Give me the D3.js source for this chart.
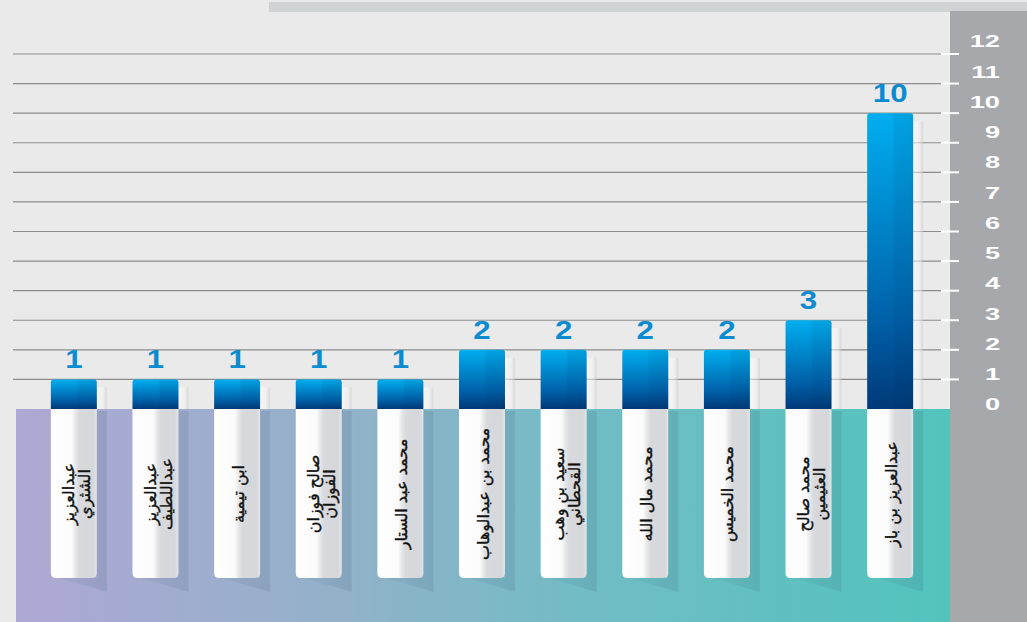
<!DOCTYPE html>
<html><head><meta charset="utf-8">
<script src="https://cdn.jsdelivr.net/npm/d3@7"></script>
<style>html,body{margin:0;padding:0;background:#eaeaea;}svg{display:block;}</style>
</head><body>
<svg id="c" width="1027" height="622"></svg>
<script>
const names = [
  ["عبدالعزيز","الشثري"],
  ["عبدالعزيز","عبداللطيف"],
  ["ابن تيمية"],
  ["صالح فوزان","الفوزان"],
  ["محمد عبد الستار"],
  ["محمد بن عبدالوهاب"],
  ["سعيد بن وهب","القحطاني"],
  ["محمد مال الله"],
  ["محمد الخميس"],
  ["محمد صالح","العثيمين"],
  ["عبدالعزيز بن باز"]
];
const values = [1,1,1,1,1,2,2,2,2,3,10];
const yTicks = [0,1,2,3,4,5,6,7,8,9,10,11,12];

const svg = d3.select("#c");
const W = 1027, H = 622;
const base = 409, cardBottom = 578;

const x = d3.scaleBand().domain(d3.range(values.length)).range([28, 936]).paddingInner(0.437).paddingOuter(0.28);
const y = d3.scaleLinear().domain([0, 12]).range([base, 54]);
const yLab = d3.scaleLinear().domain([0, 12]).range([405, 42]);

const defs = svg.append("defs");
function lin(id, x1, y1, x2, y2, stops) {
  const g = defs.append("linearGradient").attr("id", id)
    .attr("x1", x1).attr("y1", y1).attr("x2", x2).attr("y2", y2);
  stops.forEach(s => g.append("stop").attr("offset", s[0]).attr("stop-color", s[1]).attr("stop-opacity", s[2] == null ? 1 : s[2]));
}
lin("band", 0, 0, 1, 0, [[0, "#afa8d4"], [0.35, "#92b1c9"], [0.6, "#72bcc5"], [1, "#52c4bc"]]);
lin("bar", 0, 0, 0, 1, [[0, "#00aeef"], [0.2, "#0098dc"], [0.7, "#0060a8"], [1, "#003978"]]);
lin("barShade", 0, 0, 1, 0, [[0, "#000", 0], [0.55, "#000", 0], [0.6, "#002040", 0.07], [1, "#002040", 0.09]]);
lin("card", 0, 0, 1, 0, [[0, "#ffffff"], [0.45, "#fbfbfb"], [0.55, "#e3e4e6"], [0.62, "#d8d9dc"], [0.92, "#d6d7da"], [1, "#e4e5e7"]]);
lin("barSh", 0, 0, 1, 0, [[0, "#ffffff", 0.55], [0.6, "#f6f6f6", 0.5], [1, "#c8c8c8", 0.5]]);
lin("cardSh", 0, 0, 1, 0, [[0, "#30506a", 0.05], [1, "#30506a", 0.14]]);

// top strip and right panel
svg.append("rect").attr("x", 269).attr("y", 2).attr("width", W - 269).attr("height", 10).attr("fill", "#d1d2d4");
svg.append("rect").attr("x", 950).attr("y", 11).attr("width", W - 950).attr("height", H - 11).attr("fill", "#a7a8ab");

// bottom band
svg.append("rect").attr("x", 16).attr("y", base).attr("width", 950 - 16).attr("height", H - base).attr("fill", "url(#band)");

// gridlines
const gl = svg.append("g");
gl.selectAll("line.g").data(yTicks.filter(d => d > 0)).join("line")
  .attr("x1", 13).attr("x2", 941).attr("y1", d => y(d)).attr("y2", d => y(d))
  .attr("stroke", "#8c8c8c").attr("stroke-width", 1.2);
gl.selectAll("line.t").data(yTicks.filter(d => d > 0)).join("line")
  .attr("x1", 941).attr("x2", 959).attr("y1", d => y(d)).attr("y2", d => y(d))
  .attr("stroke", "#ffffff").attr("stroke-width", 2);

// axis labels
svg.append("g").selectAll("text").data(yTicks).join("text")
  .attr("transform", d => `translate(1000,${yLab(d)}) scale(1.7,1)`)
  .attr("text-anchor", "end").attr("dominant-baseline", "central")
  .attr("font-family", "Liberation Sans, Arial, sans-serif").attr("font-weight", "bold")
  .attr("font-size", 16).attr("fill", "#ffffff").text(d => d);

const bw = x.bandwidth();
const items = svg.append("g").selectAll("g").data(values).join("g");

// card shadows
items.append("path").attr("d", (d, i) => {
  const x0 = x(i), x1 = x(i) + bw;
  return `M${x0 + 8},${cardBottom} L${x1 + 10},${cardBottom + 14} L${x1 + 10},${base + 2} L${x1},${base + 2} L${x1},${cardBottom} Z`;
}).attr("fill", "url(#cardSh)");

// bar side shadows
items.append("rect").attr("x", (d, i) => x(i) + bw).attr("y", d => y(d) + 8)
  .attr("width", 10).attr("height", d => base - y(d) - 8).attr("fill", "url(#barSh)");

// bars
const r = 3;
function barPath(d, i) {
  const x0 = x(i), x1 = x(i) + bw, t = y(d);
  return `M${x0},${base} L${x0},${t + r} Q${x0},${t} ${x0 + r},${t} L${x1 - r},${t} Q${x1},${t} ${x1},${t + r} L${x1},${base} Z`;
}
items.append("path").attr("d", barPath).attr("fill", "url(#bar)");
items.append("path").attr("d", barPath).attr("fill", "url(#barShade)");

// cards
const cr = 5;
items.append("path").attr("d", (d, i) => {
  const x0 = x(i), x1 = x(i) + bw;
  return `M${x0},${base} L${x1},${base} L${x1},${cardBottom - cr} Q${x1},${cardBottom} ${x1 - cr},${cardBottom} L${x0 + cr},${cardBottom} Q${x0},${cardBottom} ${x0},${cardBottom - cr} Z`;
}).attr("fill", "url(#card)");

// value labels
items.append("text")
  .attr("transform", (d, i) => `translate(${x(i) + bw / 2},${y(d) - 11}) scale(1.2,1)`)
  .attr("text-anchor", "middle")
  .attr("font-family", "Liberation Sans, Arial, sans-serif").attr("font-weight", "bold")
  .attr("font-size", 26).attr("fill", "#0b8bd0").text(d => d);

// category labels (vertical)
items.each(function (d, i) {
  const lines = names[i];
  const cx = x(i) + bw / 2 + (lines.length > 1 ? 3 : 1);
  const g = d3.select(this).append("g").attr("transform", `translate(${cx},494) rotate(-90)`);
  const n = lines.length;
  lines.forEach((s, k) => {
    g.append("text").attr("x", 0).attr("y", (k - (n - 1) / 2) * 16)
      .attr("text-anchor", "middle").attr("dominant-baseline", "central")
      .attr("font-family", "DejaVu Sans, sans-serif").attr("font-size", 16)
      .attr("fill", "#111").attr("stroke", "#111").attr("stroke-width", 0.35)
      .attr("direction", "rtl").text(s);
  });
});
</script>
</body></html>
